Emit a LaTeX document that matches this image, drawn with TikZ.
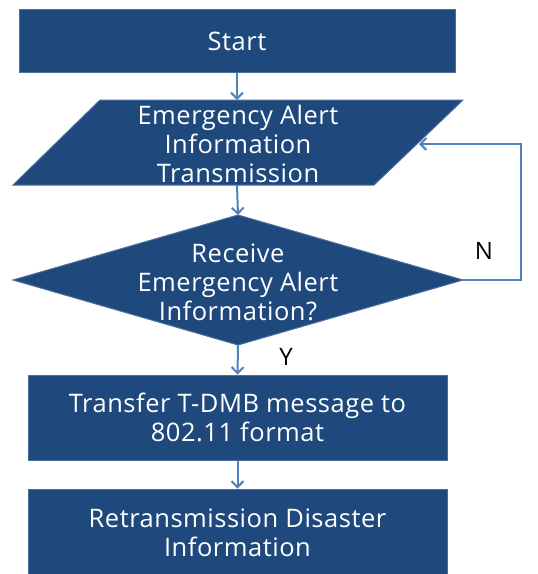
\documentclass[tikz,border=0pt]{standalone}
\usepackage{fontspec}
\setmainfont[LetterSpace=2]{Open Sans}
\usetikzlibrary{arrows.meta}
\definecolor{boxblue}{HTML}{1F497D}
\definecolor{rimblue}{HTML}{4A6F9E}
\definecolor{arrowblue}{HTML}{4F81BD}
\begin{document}
\begin{tikzpicture}[x=1pt,y=-1pt,
  shapebox/.style={fill=boxblue,draw=rimblue,line width=1pt},
  boxnode/.style={shapebox,rectangle,inner sep=0pt},
  txt/.style={text=white,align=center,font=\fontsize{25.5}{29}\selectfont},
  flow/.style={draw=arrowblue,line width=2pt,-{Straight Barb[length=6pt,width=12pt,line width=2pt]}},
  lbl/.style={text=black,font=\fontsize{24}{28}\selectfont}]
\useasboundingbox (0,0) rectangle (538,574);
% Start
\node[boxnode,minimum width=436pt,minimum height=63pt] (start) at (237,40.5) {};
\node[txt] (starttxt) at (237,41.5) {Start};
% Parallelogram
\coordinate (pa) at (100,100);
\coordinate (pb) at (463,100);
\coordinate (pc) at (374,185);
\coordinate (pd) at (13,185);
\path[shapebox] (pa)--(pb)--(pc)--(pd)--cycle;
\coordinate (ptop) at (237,100);
\coordinate (pbot) at (237,185);
\coordinate (pin) at (419,144);
\node[txt] (paratxt) at (238,144) {Emergency Alert\\Information\\Transmission};
% Diamond
\coordinate (dt) at (238,215);
\coordinate (dr) at (463,280);
\coordinate (db) at (238,345);
\coordinate (dl) at (13,280);
\path[shapebox] (dt)--(dr)--(db)--(dl)--cycle;
\node[txt] (dtxt) at (238,282) {Receive\\Emergency Alert\\Information?};
% Box 3
\node[boxnode,minimum width=419pt,minimum height=85pt] (transfer) at (237.5,417.5) {};
\node[txt] (transfertxt) at (237.5,417.5) {Transfer T-DMB message to\\802.11 format};
% Box 4
\node[boxnode,minimum width=419pt,minimum height=86pt] (retx) at (237.5,532) {};
\node[txt] (retxtxt) at (237.5,532.5) {Retransmission Disaster\\Information};
% Connectors
\draw[flow] (start.south) -- (ptop);
\draw[flow] (pbot) -- (dt);
\draw[flow] (db) -- (transfer.north);
\draw[flow] (transfer.south) -- (retx.north);
\coordinate (loopa) at (521,280);
\coordinate (loopb) at (521,144);
\draw[flow] (dr) -- (loopa) -- (loopb) -- (pin);
% Labels
\node[lbl] (nlabel) at (484,251) {N};
\node[lbl] (ylabel) at (286,357) {Y};
\end{tikzpicture}
\end{document}
